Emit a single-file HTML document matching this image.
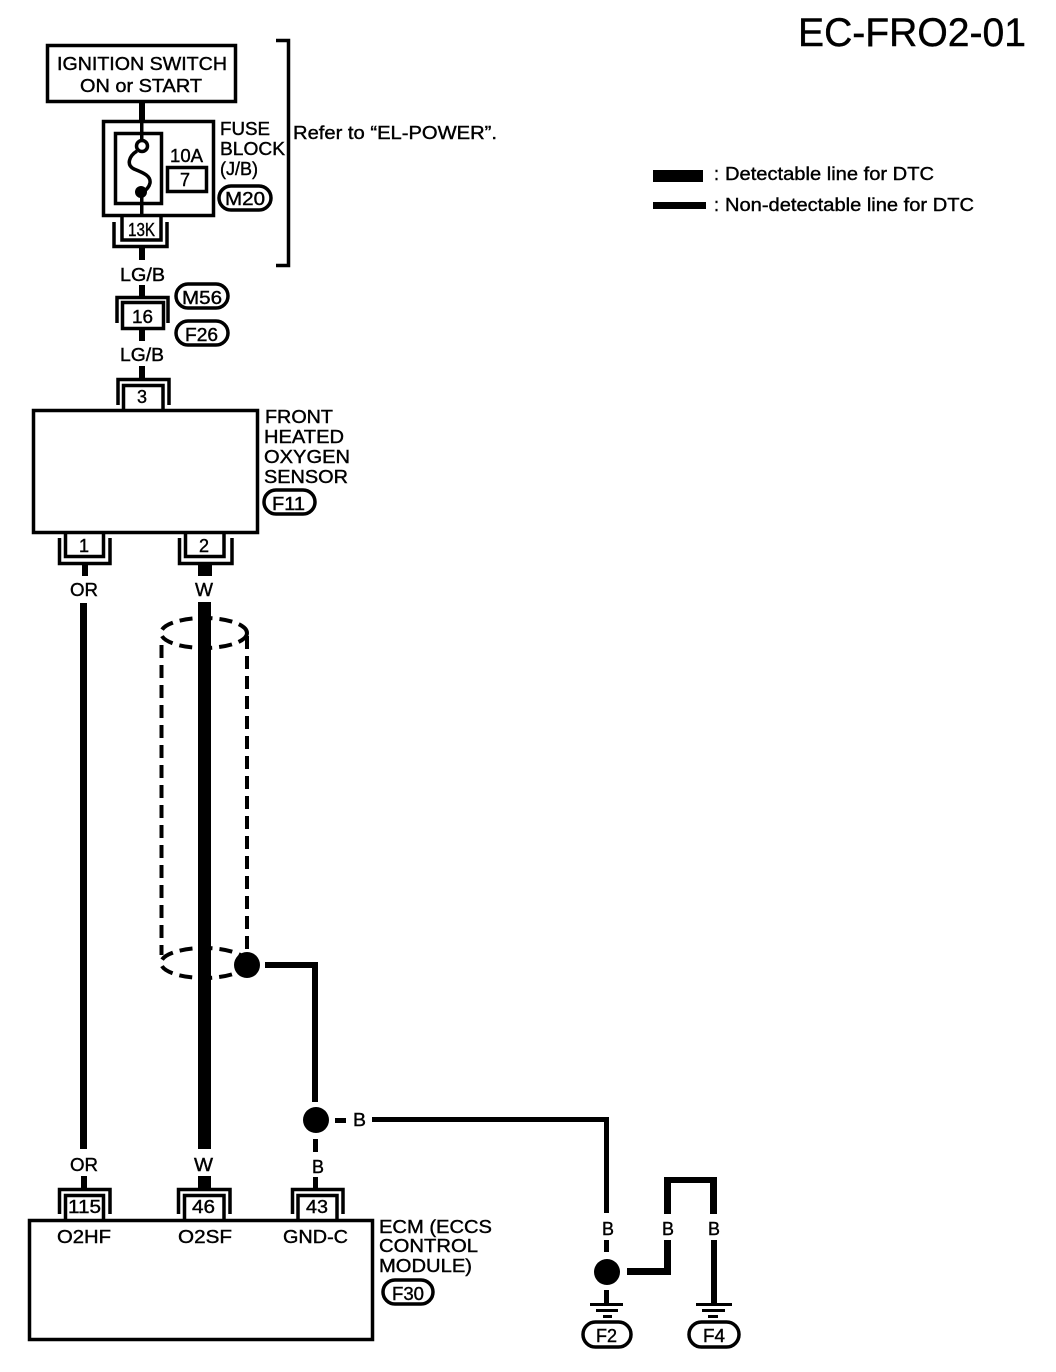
<!DOCTYPE html>
<html>
<head>
<meta charset="utf-8">
<style>
html,body{margin:0;padding:0;background:#fff}
svg{display:block}
text{font-family:"Liberation Sans",sans-serif;font-size:18px;fill:#000;stroke:#000;stroke-width:.4}
.n{fill:none;stroke:#000;stroke-width:3.5}
.k{fill:#000;stroke:none}
</style>
</head>
<body>
<svg width="1056" height="1372" viewBox="0 0 1056 1372" xmlns="http://www.w3.org/2000/svg">
<rect width="1056" height="1372" fill="#fff"/>

<text x="798" y="46" textLength="228" lengthAdjust="spacingAndGlyphs" style="font-size:40px">EC-FRO2-01</text>

<!-- legend -->
<rect class="k" x="653" y="170" width="50" height="12"/>
<rect class="k" x="653" y="202" width="53" height="7"/>
<text x="714" y="180">:</text>
<text x="714" y="211">:</text>
<text x="725" y="180" textLength="209" lengthAdjust="spacingAndGlyphs">Detectable line for DTC</text>
<text x="725" y="211" textLength="249" lengthAdjust="spacingAndGlyphs">Non-detectable line for DTC</text>

<!-- power section -->
<rect class="n" x="47.500" y="45.500" width="188" height="56"/>
<text x="57" y="70" textLength="170" lengthAdjust="spacingAndGlyphs">IGNITION SWITCH</text>
<text x="80" y="92" textLength="122" lengthAdjust="spacingAndGlyphs">ON or START</text>
<rect class="k" x="139" y="102" width="6" height="20"/>
<rect class="n" x="103.500" y="121.500" width="110" height="94"/>
<rect class="n" x="115.500" y="133.500" width="46" height="70"/>
<rect class="k" x="140" y="121" width="3.500" height="20"/>
<rect class="k" x="140" y="195" width="3.500" height="21"/>
<circle cx="142" cy="146" r="5.500" fill="#fff" stroke="#000" stroke-width="3.500"/>
<path class="n" d="M137 151C129 156 126 165 134 169C144 173 151 176 150 183C149 188 145 191 142 193"/>
<circle class="k" cx="141" cy="192" r="6"/>
<text x="170" y="162" textLength="33" lengthAdjust="spacingAndGlyphs">10A</text>
<rect class="n" x="167.500" y="167.500" width="39" height="24"/>
<text x="180" y="186">7</text>
<text x="220" y="135" textLength="50" lengthAdjust="spacingAndGlyphs">FUSE</text>
<text x="220" y="155" textLength="65" lengthAdjust="spacingAndGlyphs">BLOCK</text>
<text x="220" y="175" textLength="38" lengthAdjust="spacingAndGlyphs">(J/B)</text>
<rect class="n" x="219" y="186" width="52" height="24" rx="12"/>
<text x="225" y="205" textLength="40" lengthAdjust="spacingAndGlyphs">M20</text>

<path class="n" d="M122 216V240H161V216"/>
<path class="n" d="M114 222V246.500H167V222"/>
<text x="128" y="236" textLength="27" lengthAdjust="spacingAndGlyphs">13K</text>
<rect class="k" x="139" y="247" width="6" height="13"/>
<text x="120" y="281" textLength="45" lengthAdjust="spacingAndGlyphs">LG/B</text>

<path class="n" d="M276 40.500H288.500V265.500H276"/>
<text x="293" y="139" textLength="204" lengthAdjust="spacingAndGlyphs">Refer to “EL-POWER”.</text>

<!-- connector 16 -->
<rect class="k" x="139" y="285" width="6" height="12"/>
<path class="n" d="M117 323V297.500H168V323"/>
<rect class="n" x="122.500" y="302.500" width="41" height="26"/>
<text x="132" y="323" textLength="21" lengthAdjust="spacingAndGlyphs">16</text>
<rect class="n" x="176" y="284" width="52" height="24" rx="12"/>
<text x="182" y="304" textLength="40" lengthAdjust="spacingAndGlyphs">M56</text>
<rect class="n" x="176" y="321" width="52" height="24" rx="12"/>
<text x="185" y="341" textLength="33" lengthAdjust="spacingAndGlyphs">F26</text>
<rect class="k" x="139" y="329" width="6" height="12"/>
<text x="120" y="361" textLength="44" lengthAdjust="spacingAndGlyphs">LG/B</text>
<rect class="k" x="139" y="366" width="6" height="12"/>

<!-- sensor -->
<path class="n" d="M118 405V379.500H169V405"/>
<path class="n" d="M123.500 410V385.500H163V410"/>
<text x="137" y="403">3</text>
<rect class="n" x="33.500" y="410.500" width="224" height="122"/>
<text x="265" y="423" textLength="68" lengthAdjust="spacingAndGlyphs">FRONT</text>
<text x="264" y="443" textLength="80" lengthAdjust="spacingAndGlyphs">HEATED</text>
<text x="264" y="463" textLength="86" lengthAdjust="spacingAndGlyphs">OXYGEN</text>
<text x="264" y="483" textLength="84" lengthAdjust="spacingAndGlyphs">SENSOR</text>
<rect class="n" x="264" y="490" width="51" height="24" rx="12"/>
<text x="272" y="510" textLength="33" lengthAdjust="spacingAndGlyphs">F11</text>

<path class="n" d="M65.500 533V556.500H103.500V533"/>
<path class="n" d="M59.500 538V563.500H110V538"/>
<text x="79" y="552">1</text>
<path class="n" d="M185.500 533V556.500H224V533"/>
<path class="n" d="M179.500 538V563.500H232V538"/>
<text x="199" y="552">2</text>

<rect class="k" x="82" y="564" width="6" height="12"/>
<text x="70" y="596" textLength="28" lengthAdjust="spacingAndGlyphs">OR</text>
<rect class="k" x="80" y="603" width="7" height="546"/>
<rect class="k" x="198" y="564" width="14" height="12"/>
<text x="195" y="596" textLength="18" lengthAdjust="spacingAndGlyphs">W</text>

<!-- shield -->
<g fill="none" stroke="#000" stroke-width="4" stroke-dasharray="13 7">
<ellipse cx="204" cy="633" rx="43" ry="15"/>
<ellipse cx="204" cy="963" rx="43" ry="15"/>
<path d="M161.500 645V955"/>
<path d="M247 636V952"/>
</g>
<rect class="k" x="198" y="602" width="13" height="547"/>
<circle class="k" cx="247" cy="965" r="13"/>
<path class="k" d="M265 962H318V1102H312V968H265Z"/>
<circle class="k" cx="316" cy="1120" r="13"/>
<rect class="k" x="335" y="1118" width="11" height="5"/>
<text x="353" y="1126" textLength="13" lengthAdjust="spacingAndGlyphs">B</text>
<path class="k" d="M372 1117H609V1213H604V1122H372Z"/>
<rect class="k" x="313" y="1139" width="5" height="13"/>
<text x="312" y="1173" textLength="12" lengthAdjust="spacingAndGlyphs">B</text>

<!-- lower labels and wires -->
<text x="70" y="1171" textLength="28" lengthAdjust="spacingAndGlyphs">OR</text>
<text x="194" y="1171" textLength="19" lengthAdjust="spacingAndGlyphs">W</text>
<rect class="k" x="81" y="1176" width="6" height="13"/>
<rect class="k" x="198" y="1176" width="13" height="13"/>
<rect class="k" x="313" y="1177" width="5" height="12"/>

<path class="n" d="M59.500 1214V1189.500H110V1214"/>
<path class="n" d="M65.500 1220V1195.500H103.500V1220"/>
<text x="68" y="1213" textLength="33" lengthAdjust="spacingAndGlyphs">115</text>
<path class="n" d="M178.500 1214V1189.500H230V1214"/>
<path class="n" d="M184.500 1220V1195.500H224V1220"/>
<text x="192" y="1213" textLength="23" lengthAdjust="spacingAndGlyphs">46</text>
<path class="n" d="M292.500 1214V1189.500H343V1214"/>
<path class="n" d="M298 1220V1195.500H337V1220"/>
<text x="306" y="1213" textLength="22" lengthAdjust="spacingAndGlyphs">43</text>

<!-- ECM -->
<rect class="n" x="29.500" y="1220.500" width="343" height="119"/>
<text x="57" y="1243" textLength="54" lengthAdjust="spacingAndGlyphs">O2HF</text>
<text x="178" y="1243" textLength="54" lengthAdjust="spacingAndGlyphs">O2SF</text>
<text x="283" y="1243" textLength="65" lengthAdjust="spacingAndGlyphs">GND-C</text>
<text x="379" y="1233" textLength="113" lengthAdjust="spacingAndGlyphs">ECM (ECCS</text>
<text x="379" y="1252" textLength="99" lengthAdjust="spacingAndGlyphs">CONTROL</text>
<text x="379" y="1272" textLength="93" lengthAdjust="spacingAndGlyphs">MODULE)</text>
<rect class="n" x="383" y="1280" width="50" height="24" rx="12"/>
<text x="392" y="1300" textLength="32" lengthAdjust="spacingAndGlyphs">F30</text>

<!-- grounds -->
<text x="602" y="1235" textLength="12" lengthAdjust="spacingAndGlyphs">B</text>
<rect class="k" x="604" y="1240" width="5" height="12"/>
<circle class="k" cx="607" cy="1272" r="13"/>
<path class="k" d="M627 1268H664V1240H671V1275H627Z"/>
<path class="k" d="M664 1214V1177H717V1214H710V1183H671V1214Z"/>
<text x="662" y="1235" textLength="12" lengthAdjust="spacingAndGlyphs">B</text>
<text x="708" y="1235" textLength="12" lengthAdjust="spacingAndGlyphs">B</text>
<rect class="k" x="711" y="1240" width="6" height="63"/>

<rect class="k" x="604" y="1290" width="5" height="13"/>
<rect class="k" x="590" y="1303" width="33" height="3"/>
<rect class="k" x="596" y="1309" width="22" height="3"/>
<rect class="k" x="603" y="1315" width="9" height="3"/>
<rect class="k" x="696" y="1303" width="36" height="3"/>
<rect class="k" x="702" y="1309" width="23" height="3"/>
<rect class="k" x="708" y="1315" width="10" height="3"/>

<rect class="n" x="583" y="1322" width="48" height="25" rx="12.500"/>
<text x="596" y="1342" textLength="21" lengthAdjust="spacingAndGlyphs">F2</text>
<rect class="n" x="689" y="1322" width="50" height="25" rx="12.500"/>
<text x="703" y="1342" textLength="22" lengthAdjust="spacingAndGlyphs">F4</text>
</svg>
</body>
</html>
